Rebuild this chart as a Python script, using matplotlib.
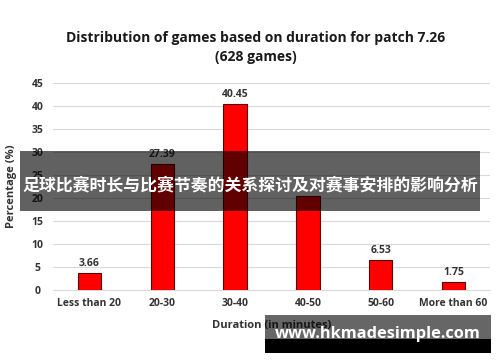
import matplotlib
matplotlib.use("Agg")
import matplotlib.pyplot as plt
from matplotlib.patches import Rectangle

categories = ["Less than 20", "20-30", "30-40", "40-50", "50-60", "More than 60"]
values = [3.66, 27.39, 40.45, 20.38, 6.53, 1.75]
value_labels = ["3.66", "27.39", "40.45", "", "6.53", "1.75"]
yticks = [0, 5, 10, 15, 20, 25, 30, 35, 40, 45]

title = "Distribution of games based on duration for patch 7.26\n(628 games)"
xlabel = "Duration (in minutes)"
ylabel = "Percentage (%)"
banner = "足球比赛时长与比赛节奏的关系探讨及对赛事安排的影响分析"
watermark = "www.hkmadesimple.com"

plt.rcParams['font.family'] = ['Open Sans', 'DejaVu Sans']
txt = '#333333'

fig = plt.figure(figsize=(5, 3.62), dpi=100)
ax = fig.add_axes([0.106, 0.199, 0.874, 0.572])
x = list(range(len(categories)))
ax.bar(x, values, width=0.32, color='#ff0000', edgecolor='#5a0000', linewidth=0.8, zorder=3)
for xi, v, lab in zip(x, values, value_labels):
    if lab:
        ax.annotate(lab, (xi, v), xytext=(0, 3), textcoords='offset points',
                    ha='center', va='bottom', fontsize=7.5, fontweight='bold', color=txt)
ax.set_xlim(-0.5, 5.5)
ax.set_ylim(0, 45)
ax.set_yticks(yticks)
ax.set_xticks(x)
ax.set_xticklabels(categories)
ax.yaxis.grid(True, color='#d9d9d9', linewidth=0.8, zorder=0)
for s in ['top', 'right', 'left']:
    ax.spines[s].set_visible(False)
ax.spines['bottom'].set_color('#d9d9d9')
ax.tick_params(length=0, labelsize=7.5, labelcolor=txt, pad=6)
ax.tick_params(axis='y', pad=11)
for t in ax.get_xticklabels() + ax.get_yticklabels():
    t.set_fontweight('bold')
for t in ax.get_yticklabels():
    t.set_horizontalalignment('center')
ax.set_xlabel(xlabel, fontsize=8, fontweight='bold', color=txt, labelpad=8)
ax.set_ylabel(ylabel, fontsize=8, fontweight='bold', color=txt, labelpad=0)
ax.yaxis.set_label_coords(-0.082, 0.5)
fig.text(0.512, 0.87, title, ha='center', va='center', fontsize=10,
         fontweight='bold', color='#1a1a1a', linespacing=1.45)

# banner overlay
fig.patches.append(Rectangle((20/500, 1-211/362), 460/500, 60/362, transform=fig.transFigure,
                             facecolor='black', alpha=0.62, zorder=10))
fig.text(0.5, 1-185/362, banner, ha='center', va='center', fontsize=12.2, fontweight='bold',
         color='white', family=['Noto Sans CJK SC', 'DejaVu Sans'], zorder=11)

# watermark
fig.patches.append(Rectangle((265/500, 1-339/362), 226/500, 24/362, transform=fig.transFigure,
                             facecolor='black', alpha=0.6, zorder=10))
fig.patches.append(Rectangle((265/500, 1-353/362), 226/500, 14/362, transform=fig.transFigure,
                             facecolor='black', zorder=10))
fig.text(378/500, 1-334/362, watermark, ha='center', va='center', fontsize=11.8, fontweight='bold',
         color='white', family=['Open Sans', 'DejaVu Sans'], zorder=11)

fig.savefig('out.png', dpi=100)
